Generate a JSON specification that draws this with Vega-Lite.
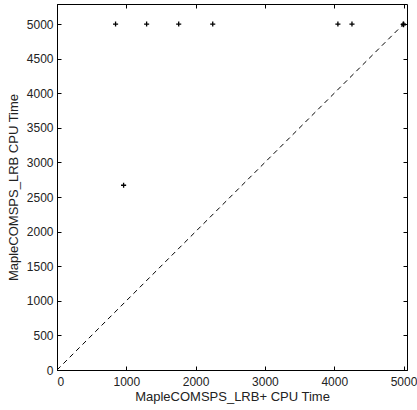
{
  "$schema": "https://vega.github.io/schema/vega-lite/v6.json",
  "width": 350,
  "height": 366,
  "autosize": {"type": "none"},
  "padding": {"left": 57, "top": 4, "right": 10, "bottom": 40},
  "background": "white",
  "config": {
    "view": {"stroke": "black", "strokeWidth": 1},
    "font": "Liberation Sans",
    "axis": {
      "grid": false,
      "domainColor": "black",
      "tickColor": "black",
      "tickSize": -4,
      "labelColor": "#222",
      "labelFontSize": 12,
      "titleFontSize": 13,
      "titleFontWeight": "normal",
      "titleColor": "#222",
      "labelFont": "Liberation Sans",
      "titleFont": "Liberation Sans",
      "format": "d"
    }
  },
  "datasets": {
    "pts": [
      {"x": 845, "y": 5000},
      {"x": 1293, "y": 5000},
      {"x": 1756, "y": 5000},
      {"x": 2247, "y": 5000},
      {"x": 4053, "y": 5000},
      {"x": 4256, "y": 5000},
      {"x": 5000, "y": 5000},
      {"x": 4995, "y": 4995},
      {"x": 5000, "y": 4990},
      {"x": 961, "y": 2670}
    ],
    "diag": [
      {"x": 0, "y": 0},
      {"x": 5050, "y": 5050}
    ]
  },
  "layer": [
    {
      "data": {"name": "diag"},
      "mark": {"type": "line", "color": "black", "strokeWidth": 1, "strokeDash": [5, 4], "clip": true},
      "encoding": {
        "x": {"field": "x", "type": "quantitative", "scale": {"domain": [0, 5050], "nice": false},
          "axis": {"orient": "bottom", "values": [0, 1000, 2000, 3000, 4000, 5000], "title": "MapleCOMSPS_LRB+ CPU Time", "labelPadding": 10, "titlePadding": 3}},
        "y": {"field": "y", "type": "quantitative", "scale": {"domain": [0, 5290], "nice": false},
          "axis": {"orient": "left", "values": [0, 500, 1000, 1500, 2000, 2500, 3000, 3500, 4000, 4500, 5000], "title": "MapleCOMSPS_LRB CPU Time", "labelPadding": 8, "titlePadding": 6}}
      }
    },
    {
      "data": {"name": "pts"},
      "mark": {"type": "point", "shape": "M-1,0H1M0,-1V1", "size": 26, "filled": false, "stroke": "black", "strokeWidth": 1.3, "opacity": 1},
      "encoding": {
        "x": {"field": "x", "type": "quantitative",
          "axis": {"orient": "top", "values": [0, 1000, 2000, 3000, 4000, 5000], "labels": false, "title": null, "domain": false}},
        "y": {"field": "y", "type": "quantitative",
          "axis": {"orient": "right", "values": [0, 500, 1000, 1500, 2000, 2500, 3000, 3500, 4000, 4500, 5000], "labels": false, "title": null, "domain": false}}
      }
    }
  ],
  "resolve": {"axis": {"x": "independent", "y": "independent"}}
}
